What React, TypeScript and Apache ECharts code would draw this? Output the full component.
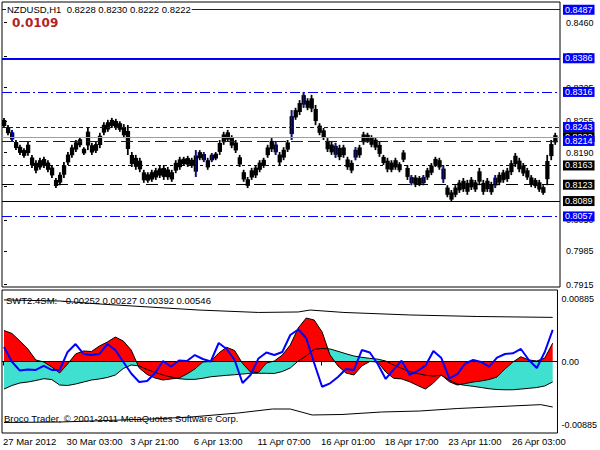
import { useEffect, useRef } from "react";
import * as echarts from "echarts";

const FONT = '"Liberation Sans", Arial, sans-serif';

// ---- price bars (H1, compressed) ----
const priceHigh = [
  0.8262, 0.8247, 0.8237, 0.8216, 0.8206, 0.8199, 0.8212, 0.8185, 0.8174, 0.8179,
  0.8181, 0.8174, 0.8164, 0.8137, 0.8149, 0.8170, 0.8191, 0.8206, 0.8216, 0.8222,
  0.8201, 0.8243, 0.8210, 0.8212, 0.8231, 0.8253, 0.8258, 0.8262, 0.8260, 0.8255,
  0.8249, 0.8247, 0.8191, 0.8185, 0.8179, 0.8154, 0.8149, 0.8154, 0.8158, 0.8162,
  0.8164, 0.8160, 0.8154, 0.8174, 0.8181, 0.8181, 0.8183, 0.8179, 0.8195, 0.8195,
  0.8191, 0.8179, 0.8189, 0.8191, 0.8216, 0.8233, 0.8237, 0.8226, 0.8216, 0.8185,
  0.8154, 0.8139, 0.8158, 0.8164, 0.8174, 0.8179, 0.8206, 0.8220, 0.8212, 0.8191,
  0.8201, 0.8216, 0.8278, 0.8283, 0.8299, 0.8316, 0.8303, 0.8310, 0.8289, 0.8251,
  0.8241, 0.8220, 0.8212, 0.8210, 0.8206, 0.8206, 0.8181, 0.8174, 0.8201, 0.8206,
  0.8233, 0.8231, 0.8226, 0.8222, 0.8212, 0.8185, 0.8179, 0.8174, 0.8179, 0.8170,
  0.8195, 0.8164, 0.8143, 0.8143, 0.8141, 0.8143, 0.8158, 0.8168, 0.8181, 0.8179,
  0.8164, 0.8122, 0.8112, 0.8122, 0.8133, 0.8137, 0.8133, 0.8139, 0.8133, 0.8158,
  0.8133, 0.8137, 0.8129, 0.8143, 0.8149, 0.8154, 0.8158, 0.8174, 0.8189, 0.8179,
  0.8168, 0.8158, 0.8143, 0.8137, 0.8133, 0.8122, 0.8185, 0.8216, 0.8231,
];
const priceLow = [
  0.8241, 0.8226, 0.8212, 0.8195, 0.8185, 0.8179, 0.8183, 0.8158, 0.8147, 0.8154,
  0.8158, 0.8149, 0.8137, 0.8116, 0.8122, 0.8137, 0.8164, 0.8179, 0.8191, 0.8201,
  0.8185, 0.8195, 0.8185, 0.8189, 0.8199, 0.8226, 0.8233, 0.8241, 0.8237, 0.8233,
  0.8220, 0.8185, 0.8160, 0.8154, 0.8149, 0.8127, 0.8127, 0.8129, 0.8133, 0.8137,
  0.8133, 0.8133, 0.8129, 0.8147, 0.8154, 0.8162, 0.8160, 0.8158, 0.8139, 0.8174,
  0.8170, 0.8154, 0.8170, 0.8174, 0.8185, 0.8206, 0.8212, 0.8199, 0.8189, 0.8160,
  0.8129, 0.8116, 0.8133, 0.8137, 0.8149, 0.8158, 0.8179, 0.8191, 0.8185, 0.8164,
  0.8174, 0.8191, 0.8216, 0.8258, 0.8268, 0.8283, 0.8278, 0.8274, 0.8247, 0.8226,
  0.8216, 0.8191, 0.8185, 0.8179, 0.8174, 0.8179, 0.8154, 0.8147, 0.8174, 0.8179,
  0.8206, 0.8210, 0.8201, 0.8195, 0.8181, 0.8164, 0.8149, 0.8149, 0.8154, 0.8149,
  0.8170, 0.8133, 0.8122, 0.8118, 0.8120, 0.8122, 0.8133, 0.8143, 0.8160, 0.8154,
  0.8127, 0.8097, 0.8087, 0.8097, 0.8106, 0.8108, 0.8102, 0.8112, 0.8108, 0.8122,
  0.8102, 0.8108, 0.8102, 0.8116, 0.8122, 0.8127, 0.8129, 0.8143, 0.8160, 0.8149,
  0.8141, 0.8133, 0.8118, 0.8116, 0.8108, 0.8102, 0.8122, 0.8174, 0.8206,
];
const blueBars = [2, 48, 50, 52, 68, 72, 75, 83, 88, 102, 105, 110, 123];

// ---- horizontal levels ----
const levelValues = [0.8487, 0.8386, 0.8316, 0.8243, 0.8222, 0.8214, 0.8163, 0.8123, 0.8089, 0.8057];
const levelStyles = [
  { color: "#0000ff", type: "solid", width: 1, box: "#0000ff" },
  { color: "#0000ff", type: "solid", width: 2, box: "#0000ff" },
  { color: "#0000ff", type: [10, 3, 2, 3], width: 1, box: "#0000ff" },
  { color: "#0000ff", type: [4, 3], width: 1, box: "#0000ff" },
  { color: "#a0a0a0", type: "solid", width: 1, box: "#000000" },
  { color: "#0000ff", type: [12, 5], width: 1, box: "#0000ff" },
  { color: "#000000", type: [3, 3], width: 1, box: "#000000" },
  { color: "#000000", type: [12, 6], width: 1, box: "#000000" },
  { color: "#000000", type: "solid", width: 1, box: "#000000" },
  { color: "#0000ff", type: [10, 3, 2, 3], width: 1, box: "#0000ff" },
];

// ---- axes ----
const priceTicks = [0.7915, 0.7985, 0.805, 0.812, 0.819, 0.8255, 0.8325, 0.839, 0.846];
const xTickPos = [-0.25, 15.75, 31.75, 47.75, 63.75, 79.75, 95.75, 111.75, 127.75];
const xTickLabels = [
  "27 Mar 2012", "30 Mar 03:00", "3 Apr 21:00", "6 Apr 13:00", "11 Apr 07:00",
  "16 Apr 01:00", "18 Apr 17:00", "23 Apr 11:00", "26 Apr 03:00",
];
const oscTicks = [-0.00885, 0, 0.00885];

// ---- oscillator (one value every 2 bars) ----
const oscRed = [
  0.00384, 0.00347, 0.00254, 0.00155, 0.00019, -0.00006, -0.00068, -0.00142, -0.00031, 0.00093,
  0.0013, 0.00124, 0.00192, 0.00241, 0.00303, 0.00254, 0.00142, -0.0008, -0.00161, -0.00205,
  -0.00229, -0.00216, -0.00205, -0.00155, -0.00093, -0.00006, 0, 0.00105, 0.00176, 0.00136,
  -0.00025, -0.0013, -0.00136, -0.00019, 0.00006, 0.0008, 0.00205, 0.00415, 0.00538, 0.00514,
  0.00366, 0.0008, -0.00055, -0.00142, -0.00167, -0.00055, 0, -0.00006, -0.0013, -0.00208,
  -0.00216, -0.0025, -0.00297, -0.00341, -0.00266, -0.00167, -0.0025, -0.00291, -0.00273, -0.00254,
  -0.00241, -0.00223, -0.00192, -0.00093, -0.00006, 0.00059, 0.00019, 0.00006, 0.00043, 0.00227,
];
const oscTurq = [
  -0.00341, -0.00297, -0.00266, -0.00254, -0.00235, -0.00213, -0.00223, -0.00291, -0.00297, -0.00279,
  -0.00254, -0.00229, -0.00216, -0.00198, -0.00167, -0.00087, -0.00043, -0.00055, -0.00099, -0.00136,
  -0.00167, -0.00192, -0.00213, -0.00221, -0.00221, -0.00208, -0.00189, -0.0018, -0.00171, -0.00164,
  -0.00155, -0.00146, -0.00146, -0.00146, -0.00148, -0.00124, -0.0008, 0.00006, 0.00068, 0.00151,
  0.00161, 0.00155, 0.00126, 0.00096, 0.00068, 0.00052, 0.00039, 0.00029, 0.00006, -0.00043,
  -0.00084, -0.00126, -0.00148, -0.0017, -0.0018, -0.0017, -0.00229, -0.00279, -0.00295, -0.00307,
  -0.00322, -0.00337, -0.00347, -0.0035, -0.0035, -0.00341, -0.00332, -0.00322, -0.00303, -0.00252,
];
const oscBlue = [
  0.0018, -0.00003, -0.00112, -0.00099, -0.00105, -0.00055, -0.00105, -0.00105, 0.00118, 0.00216,
  0.00093, 0.0008, 0.00093, 0.00216, 0.00142, -0.00003, -0.00148, -0.00254, -0.00241, -0.00142,
  0.00006, -0.00064, 0.00013, 0.00006, 0.0008, 0.00031, 0, 0.00229, 0.00155, 0.00019,
  -0.00266, -0.00167, 0.00038, 0.00112, 0.0008, 0.00118, 0.00328, 0.00396, 0.00291, -0.00019,
  -0.00312, -0.0027, -0.00192, -0.00093, -0.00105, 0.00142, 0.00112, -0.00031, -0.00216, -0.00099,
  0.0001, -0.00164, -0.00118, -0.00052, 0.0013, 0.00043, -0.00208, -0.00155, -0.00025, 0.00019,
  -0.00006, -0.00064, 0.00047, 0.00093, 0.00102, 0.00155, 0.00019, -0.0008, 0.00118, 0.00392,
];
const envUpperPos = [0, 14, 24, 49, 64, 74, 77, 85.5, 102, 119, 138];
const envUpper = [0.00762, 0.00749, 0.00712, 0.00637, 0.00607, 0.00613, 0.00637, 0.00607, 0.00576, 0.00557, 0.00546];
const envLowerPos = [0, 14, 37, 47, 59, 67.5, 72, 77.5, 85, 95, 104.5, 114, 127.5, 135, 138];
const envLower = [
  -0.00755, -0.00749, -0.00712, -0.00687, -0.00637, -0.00588, -0.00588, -0.00662, -0.00656, -0.00625,
  -0.00613, -0.00582, -0.00551, -0.00534, -0.00563,
];

const X_MIN = -0.5;
const X_MAX = 139.2;

export default function App() {
  const ref = useRef<HTMLDivElement>(null);

  useEffect(() => {
    if (!ref.current) return;
    const chart = echarts.init(ref.current, undefined, { renderer: "svg" });

    const barData = priceHigh.map((h, i) => [i, h, priceLow[i], blueBars.includes(i) ? 1 : 0]);
    const osc = (arr: number[]) => arr.map((v, k) => [k * 2, v]);

    const option: any = {
      animation: false,
      backgroundColor: "#ffffff",
      grid: [
        { left: 2, top: 2, width: 558, height: 285, show: true, borderColor: "#000", borderWidth: 1, backgroundColor: "transparent" },
        { left: 2, top: 290, width: 558, height: 143, show: true, borderColor: "#000", borderWidth: 1, backgroundColor: "transparent" },
      ],
      xAxis: [
        { type: "value", gridIndex: 0, min: X_MIN, max: X_MAX, show: false },
        {
          type: "value",
          gridIndex: 1,
          min: X_MIN,
          max: X_MAX,
          axisLine: { show: false },
          splitLine: { show: false },
          axisTick: { show: true, customValues: xTickPos, length: 4, lineStyle: { color: "#000", width: 1 } },
          axisLabel: {
            customValues: xTickPos,
            align: "left",
            margin: 3,
            fontFamily: FONT,
            fontSize: 9.5,
            color: "#000",
            formatter: (v: number) => {
              const idx = xTickPos.findIndex((p) => Math.abs(p - v) < 1e-6);
              return idx >= 0 ? xTickLabels[idx] : "";
            },
          },
        },
      ],
      yAxis: [
        {
          type: "value",
          gridIndex: 0,
          position: "right",
          min: 0.79102,
          max: 0.85031,
          axisLine: { show: false },
          splitLine: { show: false },
          axisTick: { show: true, customValues: priceTicks, length: 3, lineStyle: { color: "#000" } },
          axisLabel: {
            customValues: priceTicks,
            margin: 6,
            fontFamily: FONT,
            fontSize: 9,
            color: "#000",
            formatter: (v: number) => v.toFixed(4),
          },
        },
        {
          type: "value",
          gridIndex: 1,
          position: "right",
          min: -0.00885,
          max: 0.00885,
          axisLine: { show: false },
          splitLine: { show: false },
          axisTick: { show: true, customValues: [0], length: 3, lineStyle: { color: "#000" } },
          axisLabel: {
            customValues: oscTicks,
            margin: 4,
            fontFamily: FONT,
            fontSize: 9,
            color: "#000",
            formatter: (v: number) => {
              const s = v === 0 ? "0.00" : v.toFixed(5);
              return v > 0 ? `{t|${s}}` : v < 0 ? `{b|${s}}` : `{m|${s}}`;
            },
            rich: {
              t: { lineHeight: 26, verticalAlign: "bottom", fontFamily: FONT, fontSize: 9, color: "#000" },
              b: { lineHeight: 26, verticalAlign: "top", fontFamily: FONT, fontSize: 9, color: "#000" },
              m: { fontFamily: FONT, fontSize: 9, color: "#000" },
            },
          },
        },
      ],
      series: [
        {
          type: "custom",
          xAxisIndex: 0,
          yAxisIndex: 0,
          clip: true,
          silent: true,
          data: barData,
          encode: { x: 0, y: [1, 2] },
          renderItem: (params: any, api: any) => {
            const i = api.value(0);
            const hi = api.value(1);
            const a = api.coord([i, hi]);
            const b = api.coord([i, api.value(2)]);
            const l = api.coord([i - 0.5, hi]);
            const r = api.coord([i + 0.5, hi]);
            const slot = r[0] - l[0];
            const h = Math.max(1, b[1] - a[1]);
            const children: any[] = [
              // vertical stroke of the bar plus a slightly narrower core so the band stays jagged
              { type: "rect", shape: { x: a[0] - slot * 0.22, y: a[1], width: slot * 0.44, height: h }, style: { fill: "#000" } },
              { type: "rect", shape: { x: l[0], y: a[1] + h * 0.2, width: slot + 0.3, height: h * 0.6 }, style: { fill: "#000" } },
            ];
            if (api.value(3)) {
              children.push({ type: "rect", shape: { x: a[0] - 0.7, y: a[1], width: 1.4, height: h }, style: { fill: "#0000ff" } });
            }
            return { type: "group", children };
          },
          z: 3,
        },
        {
          type: "line",
          xAxisIndex: 0,
          yAxisIndex: 0,
          data: priceHigh.map((h, i) => [i, h]),
          showSymbol: false,
          symbol: "none",
          silent: true,
          lineStyle: { opacity: 0 },
          z: 2,
          markLine: {
            silent: true,
            precision: 5,
            symbol: ["none", "none"],
            animation: false,
            data: levelValues.map((v, i) => ({
              yAxis: v,
              lineStyle: { color: levelStyles[i].color, type: levelStyles[i].type, width: levelStyles[i].width },
              label: {
                show: true,
                position: "end",
                distance: 3,
                formatter: () => v.toFixed(4),
                color: "#fff",
                backgroundColor: levelStyles[i].box,
                fontFamily: FONT,
                fontSize: 9,
                lineHeight: 10,
                padding: [0, 2, 0, 2],
              },
            })),
          },
        },
        {
          type: "line",
          xAxisIndex: 1,
          yAxisIndex: 1,
          data: osc(oscTurq),
          symbol: "none",
          silent: true,
          lineStyle: { width: 0, opacity: 0 },
          areaStyle: { color: "#40e0d0", opacity: 1 },
          z: 2,
        },
        {
          type: "line",
          xAxisIndex: 1,
          yAxisIndex: 1,
          data: osc(oscRed),
          symbol: "none",
          silent: true,
          lineStyle: { width: 1, color: "#000" },
          areaStyle: { color: "#ff0000", opacity: 1 },
          z: 3,
        },
        {
          type: "line",
          xAxisIndex: 1,
          yAxisIndex: 1,
          data: osc(oscTurq),
          symbol: "none",
          silent: true,
          lineStyle: { width: 1, color: "#000" },
          z: 4,
          markLine: {
            silent: true,
            precision: 6,
            symbol: ["none", "none"],
            label: { show: false },
            lineStyle: { color: "#000", type: "solid", width: 1 },
            data: [{ yAxis: 0 }],
          },
        },
        {
          type: "line",
          xAxisIndex: 1,
          yAxisIndex: 1,
          data: osc(oscBlue),
          symbol: "none",
          silent: true,
          lineStyle: { width: 2, color: "#0000ff" },
          z: 5,
        },
        {
          type: "line",
          xAxisIndex: 1,
          yAxisIndex: 1,
          data: envUpper.map((v, i) => [envUpperPos[i], v]),
          symbol: "none",
          silent: true,
          lineStyle: { width: 1, color: "#000" },
          z: 5,
        },
        {
          type: "line",
          xAxisIndex: 1,
          yAxisIndex: 1,
          data: envLower.map((v, i) => [envLowerPos[i], v]),
          symbol: "none",
          silent: true,
          lineStyle: { width: 1, color: "#000" },
          z: 5,
        },
      ],
      graphic: [
        {
          type: "text",
          left: 6,
          top: 4,
          z: 100,
          style: {
            text: "NZDUSD,H1  0.8228 0.8230 0.8222 0.8222",
            font: `9.5px ${FONT}`,
            fill: "#000",
            backgroundColor: "#fff",
            padding: [0, 1],
          },
        },
        {
          type: "text",
          left: 12,
          top: 17,
          z: 100,
          style: { text: "0.0109", font: 'bold 12px "DejaVu Sans", sans-serif', fill: "#b22222" },
        },
        {
          type: "text",
          left: 6,
          top: 295,
          z: 100,
          style: { text: "SWT2.4SM:  -0.00252 0.00227 0.00392 0.00546", font: `9.5px ${FONT}`, fill: "#000" },
        },
        {
          type: "text",
          left: 4,
          top: 413,
          z: 100,
          style: { text: "Broco Trader, © 2001-2011 MetaQuotes Software Corp.", font: `9.5px ${FONT}`, fill: "#000" },
        },
      ],
    };

    chart.setOption(option);
    return () => chart.dispose();
  }, []);

  return (
    <div
      ref={ref}
      style={{ position: "fixed", left: 0, top: 0, width: 600, height: 450, background: "#fff" }}
    />
  );
}
